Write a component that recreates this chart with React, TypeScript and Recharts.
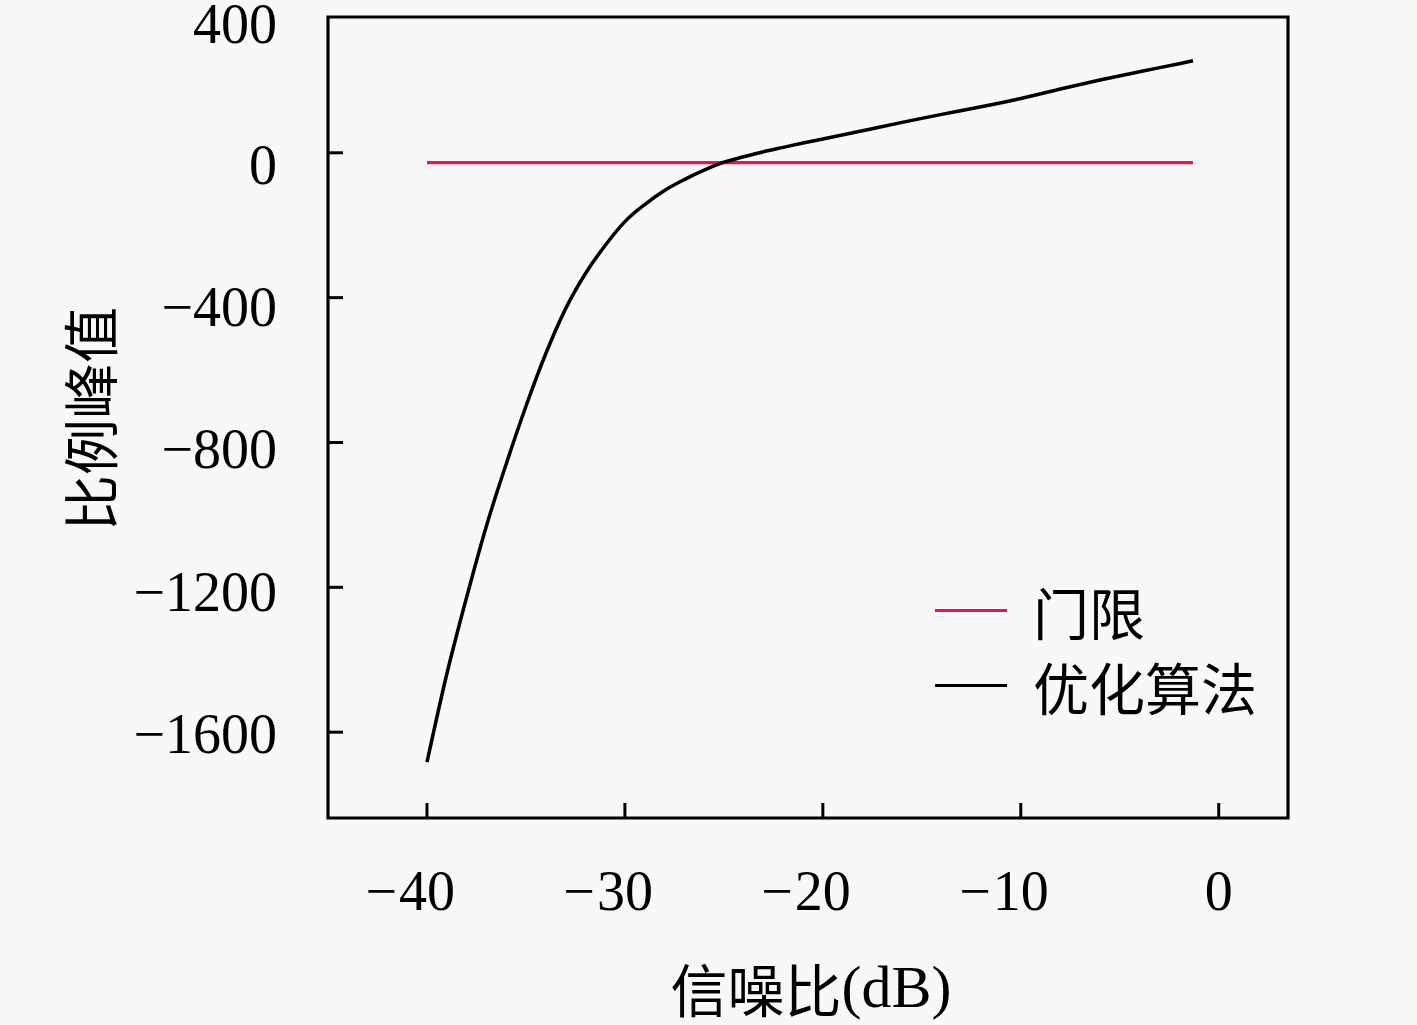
import React from "react";
import { LineChart, Line, XAxis, YAxis, ReferenceArea, Legend, Label } from "recharts";

// SNR (dB) and ratio peak of the optimised algorithm
const snr = [
  -40, -39, -38, -37, -36, -35, -34, -33, -32, -31, -30, -29, -28, -27, -26, -25,
  -24, -23, -22, -21, -20, -18, -16, -14, -12, -10, -8, -6, -4, -2, -1.3,
];
const peak = [
  -1683, -1440, -1228, -1031, -860, -700, -555, -431, -334, -256, -190, -143, -104, -74, -48, -26,
  -11, 3, 15, 27, 38, 61, 84, 106, 127, 150, 176, 201, 224, 246, 254,
];

// threshold line
const thresholdSnr = [-40, -1.3];
const thresholdPeak = [-27, -27];

const legendOrder = ["门限", "优化算法"];
const xTicks = [-40, -30, -20, -10, 0];
const yTicks = [-1600, -1200, -800, -400, 0, 400];

const SERIF = '"Liberation Serif", "DejaVu Serif", serif';
const CJK = '"Noto Sans CJK SC", "Noto Sans CJK JP", sans-serif';
const RED = "#E0175A";
const NUM_SIZE = 56;
const CJK_SIZE = 56;

const curveData = snr.map((x, i) => ({ snr: x, value: peak[i] }));
const thresholdData = thresholdSnr.map((x, i) => ({ snr: x, value: thresholdPeak[i] }));

const fmt = (v: number) => (v < 0 ? "\u2212" + Math.abs(v) : String(v));

const XTick = (props: any) => {
  const { x, y, payload } = props;
  const v = payload.value;
  const digits = String(Math.abs(v));
  return (
    <g>
      <line x1={x} x2={x} y1={y} y2={y - 15} stroke="#000" strokeWidth={3} />
      <text x={x} y={y + 92} textAnchor="middle" fontFamily={SERIF} fontSize={NUM_SIZE} fill="#000">
        {digits}
      </text>
      {v < 0 && (
        <text
          x={x - digits.length * NUM_SIZE * 0.25 - 2}
          y={y + 92}
          textAnchor="end"
          fontFamily={SERIF}
          fontSize={NUM_SIZE}
          fill="#000"
        >
          {"\u2212"}
        </text>
      )}
    </g>
  );
};

const YTick = (props: any) => {
  const { x, y, payload } = props;
  const v = payload.value;
  const cy = y + 13 + (v / 400) * 2.5;
  return (
    <g>
      {v <= 375 && <line x1={x} x2={x + 15} y1={y} y2={y} stroke="#000" strokeWidth={3} />}
      <text x={x - 51} y={cy + 18} textAnchor="end" fontFamily={SERIF} fontSize={NUM_SIZE} fill="#000">
        {fmt(v)}
      </text>
    </g>
  );
};

const renderLegend = (props: any) => {
  const items = [...(props.payload || [])].sort(
    (a: any, b: any) => legendOrder.indexOf(a.value) - legendOrder.indexOf(b.value)
  );
  return (
    <div>
      {items.map((item: any) => (
        <div key={item.value} style={{ display: "flex", alignItems: "center", height: 75 }}>
          <span style={{ display: "inline-block", width: 72, height: 3, background: item.color, marginRight: 26 }} />
          <span style={{ fontFamily: CJK, fontSize: CJK_SIZE, color: "#000", lineHeight: 1 }}>{item.value}</span>
        </div>
      ))}
    </div>
  );
};

export default function App() {
  return (
    <div style={{ position: "absolute", left: 0, top: 0, width: 1417, height: 1025, background: "#f8f8f8" }}>
      <LineChart width={1417} height={1025} margin={{ top: 17, right: 129, bottom: 0, left: 0 }}>
        <XAxis
          dataKey="snr"
          type="number"
          domain={[-45, 3.5]}
          ticks={xTicks}
          allowDataOverflow
          height={207}
          axisLine={false}
          tickLine={false}
          tickSize={0}
          tickMargin={0}
          tick={(p: any) => <XTick {...p} />}
        >
          <Label
            content={(p: any) => {
              const vb = p.viewBox;
              return (
                <text
                  x={vb.x + vb.width / 2 + 3}
                  y={vb.y + 169}
                  textAnchor="middle"
                  dominantBaseline="central"
                  fontSize={57}
                  fill="#000"
                >
                  <tspan fontFamily={CJK}>信噪比</tspan>
                  <tspan fontFamily={SERIF} fontSize={60}>(dB)</tspan>
                </text>
              );
            }}
          />
        </XAxis>
        <YAxis
          type="number"
          domain={[-1837, 375]}
          ticks={yTicks}
          allowDataOverflow
          width={328}
          axisLine={false}
          tickLine={false}
          tickSize={0}
          tickMargin={0}
          tick={(p: any) => <YTick {...p} />}
        >
          <Label
            content={(p: any) => {
              const vb = p.viewBox;
              const cx = 87;
              const cy = vb.y + vb.height / 2 + 1.5;
              return (
                <text
                  x={cx}
                  y={cy}
                  transform={`rotate(-90, ${cx}, ${cy})`}
                  textAnchor="middle"
                  dominantBaseline="central"
                  fontFamily={CJK}
                  fontSize={CJK_SIZE}
                  fill="#000"
                >
                  比例峰值
                </text>
              );
            }}
          />
        </YAxis>
        <ReferenceArea
          x1={-45}
          x2={3.5}
          y1={-1837}
          y2={375}
          fill="none"
          fillOpacity={0}
          stroke="#000"
          strokeWidth={3.2}
        />
        <Line
          data={thresholdData}
          dataKey="value"
          name="门限"
          type="linear"
          stroke={RED}
          strokeWidth={3.2}
          dot={false}
          activeDot={false}
          isAnimationActive={false}
        />
        <Line
          data={curveData}
          dataKey="value"
          name="优化算法"
          type="monotone"
          stroke="#000"
          strokeWidth={3.5}
          dot={false}
          activeDot={false}
          isAnimationActive={false}
        />
        <Legend
          layout="vertical"
          align="center"
          verticalAlign="middle"
          content={renderLegend}
          wrapperStyle={{ position: "absolute", left: 935, top: 573, width: 360, height: 150 }}
        />
      </LineChart>
    </div>
  );
}
